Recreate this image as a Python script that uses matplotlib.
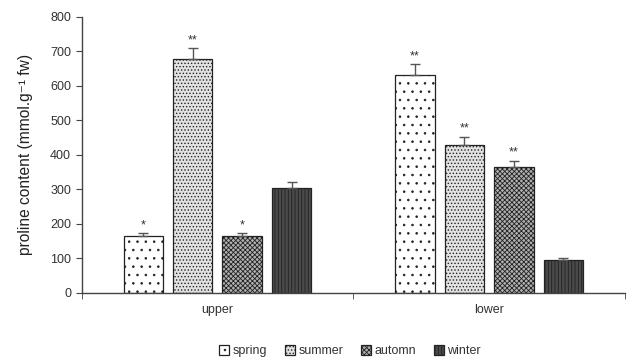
import matplotlib
matplotlib.use("Agg")
import matplotlib.pyplot as plt
import numpy as np

plt.rcParams['font.family'] = ['Liberation Sans', 'DejaVu Sans']
plt.rcParams['hatch.linewidth'] = 0.6

# data
groups = ['upper', 'lower']
seasons = ['spring', 'summer', 'automn', 'winter']
spring = [164, 631]
summer = [677, 429]
automn = [165, 364]
winter = [303, 95]
spring_err = [9, 32]
summer_err = [32, 23]
automn_err = [8, 19]
winter_err = [17, 6]
spring_sig = ['*', '**']
summer_sig = ['**', '**']
automn_sig = ['*', '**']
winter_sig = ['', '']

values = [spring, summer, automn, winter]
errors = [spring_err, summer_err, automn_err, winter_err]
sigs = [spring_sig, summer_sig, automn_sig, winter_sig]

faces = ['white', '#e2e2e2', '#b0b0b0', '#4a4a4a']
hatches = ['..', '.....', 'xxxxxxx', '|||||']

fig = plt.figure(figsize=(6.27, 3.58), dpi=100)
ax = fig.add_axes([0.130, 0.182, 0.867, 0.771])

x = np.arange(len(groups))
w = 0.145
step = 0.182
for i, s in enumerate(seasons):
    pos = x + (i - 1.5) * step
    ax.bar(pos, values[i], w, color=faces[i], edgecolor='#222222',
           linewidth=0.9, hatch=hatches[i], label=s, zorder=2)
    ax.errorbar(pos, values[i], yerr=[np.zeros(2), errors[i]], fmt='none',
                ecolor='#555555', elinewidth=1, capsize=3.5, capthick=1, zorder=3)
    for p, v, e, t in zip(pos, values[i], errors[i], sigs[i]):
        if t:
            ax.text(p, v + e + 6, t, ha='center', va='bottom', fontsize=9,
                    color='#333333')

ax.set_xlim(-0.5, 1.5)
ax.set_ylim(0, 800)
ax.set_yticks(np.arange(0, 801, 100))
ax.set_xticks(x)
ax.set_xticklabels(groups)
ax.set_xticks([-0.5, 0.5, 1.5], minor=True)
ax.tick_params(axis='x', which='major', length=0, pad=8)
ax.tick_params(axis='x', which='minor', length=4, direction='out', color='#444444')
ax.tick_params(axis='y', length=4, direction='out', color='#444444')
ax.tick_params(labelsize=9, labelcolor='#333333')
for sp in ['top', 'right']:
    ax.spines[sp].set_visible(False)
for sp in ['left', 'bottom']:
    ax.spines[sp].set_color('#444444')
    ax.spines[sp].set_linewidth(1)

ax.set_ylabel('proline content (mmol.g\u207b\u00b9 fw)', fontsize=11.2, color='#222222', labelpad=12)

ax.legend(loc='lower center', bbox_to_anchor=(0.494, -0.275), ncol=4, frameon=False,
          fontsize=9, handlelength=0.8, handleheight=0.8, handletextpad=0.3,
          columnspacing=1.4, labelcolor='#333333')

fig.savefig('out.png', dpi=100)
